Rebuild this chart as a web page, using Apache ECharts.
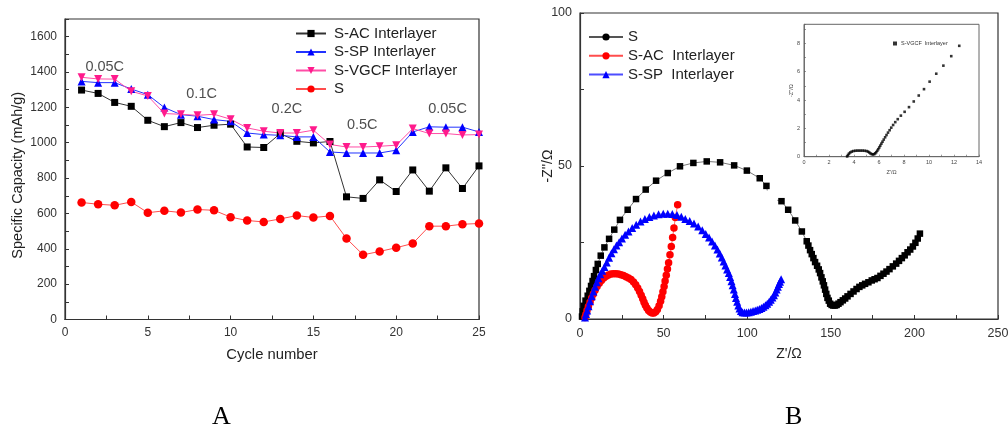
<!DOCTYPE html>
<html>
<head>
<meta charset="utf-8">
<script src="https://cdn.jsdelivr.net/npm/echarts@6/dist/echarts.min.js"></script>
<style>
html,body{margin:0;padding:0;background:#fff;}
#a{position:absolute;left:0;top:0;width:540px;height:433px;}
#b{position:absolute;left:540px;top:0;width:468px;height:433px;}
</style>
</head>
<body>
<div id="a"></div>
<div id="b"></div>
<script>
// ---------- Panel A data ----------
const cycles = [1,2,3,4,5,6,7,8,9,10,11,12,13,14,15,16,17,18,19,20,21,22,23,24,25];
const sacCap   = [1298,1279,1228,1206,1127,1091,1114,1086,1099,1105,976,973,1052,1008,999,1007,694,685,790,724,846,726,858,741,869];
const sspCap   = [1347,1340,1340,1304,1272,1199,1159,1150,1131,1121,1055,1046,1042,1033,1033,948,942,942,942,958,1061,1090,1088,1088,1061];
const svgcfCap = [1370,1361,1360,1291,1265,1165,1161,1155,1161,1133,1084,1065,1055,1055,1071,990,976,976,980,986,1080,1052,1052,1044,1046];
const sCap     = [662,652,646,665,604,615,605,622,618,579,560,552,569,588,577,586,458,366,385,406,430,528,528,539,543];
const rateLabels = [[2.4,1428,'0.05C'],[8.25,1274,'0.1C'],[13.4,1193,'0.2C'],[17.95,1099,'0.5C'],[23.1,1193,'0.05C']];
const capYTicks = [0,200,400,600,800,1000,1200,1400,1600];

// ---------- Panel B data (Nyquist) ----------
const eisS = [[1.2,0.8],[1.6,2.5],[2.2,4.3],[3.3,6.0],[4.6,7.6],[5.6,9.2],[6.6,10.8],[7.5,12.4],[8.4,14.0],[9.5,16.0],[10.6,18.0],[12.4,20.7],[14.6,23.4],[17.4,26.2],[20.5,29.2],[23.9,32.4],[28.5,35.7],[33.5,39.2],[39.3,42.3],[45.5,45.2],[52.5,47.7],[59.8,49.9],[67.8,51.0],[75.8,51.5],[83.8,51.2],[92.2,50.2],[99.8,48.5],[107.5,46.0],[111.5,43.5],[112.0,42.0],'-',[118.0,38.8],[120.5,38.5],[124.5,35.7],[128.7,32.2],[132.7,28.6],[135.6,25.4],[136.6,24.0],[137.6,22.5],[138.6,21.2],[139.6,19.9],[140.6,18.6],[141.8,17.4],[142.8,16.2],[143.6,15.0],[144.4,13.6],[145.2,12.3],[145.9,11.0],[146.6,9.6],[147.3,8.2],[148.0,6.9],[148.8,6.0],[149.6,5.0],[150.5,4.6],[151.5,4.4],[152.5,4.4],[153.5,4.6],[154.6,5.0],[155.8,5.5],[157.2,6.1],[158.6,6.7],[160.0,7.4],[161.8,8.2],[163.6,9.0],[165.4,9.8],[167.1,10.5],[168.8,11.0],[170.5,11.5],[172.5,12.0],[174.5,12.6],[176.2,13.0],[177.9,13.4],[179.7,14.1],[181.5,14.8],[183.3,15.5],[185.1,16.3],[187.1,17.2],[189.1,18.1],[190.8,19.0],[192.5,19.9],[194.2,20.8],[195.9,21.8],[197.5,22.7],[199.1,23.7],[200.6,24.9],[202.0,26.3],[203.3,27.9]];
const eisSAC = [[3.0,0.5],[3.5,1.5],[4.2,2.8],[5.0,4.1],[6.0,5.5],[7.0,6.9],[8.0,8.2],[9.0,9.4],[10.2,10.6],[11.5,11.7],[12.8,12.6],[14.2,13.4],[15.6,14.0],[17.0,14.4],[18.5,14.7],[20.0,14.8],[21.5,14.8],[23.0,14.7],[24.5,14.5],[26.0,14.2],[27.5,13.8],[29.0,13.4],[30.5,12.9],[32.0,12.1],[33.3,11.2],[34.5,10.1],[35.6,9.0],[36.6,7.8],[37.5,6.6],[38.3,5.5],[39.1,4.5],[40.0,3.6],[41.0,2.8],[42.0,2.3],[43.1,2.0],[44.2,2.0],[45.3,2.4],[46.3,3.1],[47.3,4.3],[48.2,5.8],[48.9,7.3],[49.6,8.9],[50.3,10.6],[50.9,12.4],[51.6,14.3],[52.3,16.3],[53.0,18.4],[53.8,21.0],[54.6,23.7],[55.4,26.6],[56.2,29.7],[57.0,33.2],[58.4,37.3]];
const eisSSP = [[3.0,0.5],[3.6,1.6],[4.3,2.8],[5.1,4.2],[6.0,5.8],[7.0,7.4],[8.0,9.0],[9.0,10.5],[10.0,12.0],[11.0,13.3],[12.1,14.6],[13.3,15.8],[14.6,17.0],[16.0,18.5],[17.4,20.0],[18.8,21.5],[20.3,22.8],[21.8,24.0],[23.4,25.1],[25.1,26.3],[27.0,27.5],[29.0,28.6],[31.2,29.7],[33.6,30.8],[36.2,31.9],[38.8,32.7],[41.5,33.3],[44.2,33.8],[47.0,34.2],[49.8,34.4],[52.5,34.4],[55.2,34.3],[58.0,34.0],[60.6,33.4],[63.0,32.7],[65.6,32.0],[68.2,31.2],[70.7,30.2],[73.1,29.0],[75.2,27.8],[77.2,26.6],[79.0,25.3],[80.7,24.0],[82.2,22.7],[83.6,21.4],[84.8,20.1],[85.9,18.8],[87.0,17.5],[88.0,16.2],[89.0,15.0],[89.8,13.7],[90.6,12.3],[91.3,11.0],[92.0,9.6],[92.7,8.2],[93.3,6.9],[94.0,5.6],[94.7,4.4],[95.4,3.4],[96.2,2.6],[97.2,2.2],[98.4,2.1],[99.6,2.1],[100.9,2.2],[102.2,2.4],[103.5,2.6],[104.8,2.8],[106.0,3.0],[107.3,3.3],[108.5,3.6],[109.7,4.0],[110.9,4.5],[112.0,5.0],[113.1,5.6],[114.1,6.3],[115.1,7.0],[116.0,7.8],[116.8,8.7],[117.6,9.6],[118.3,10.5],[119.0,11.4],[119.6,12.2],[120.3,13.0]];
const insetVGCF = [[3.45,0.02],[3.52,0.12],[3.6,0.22],[3.7,0.3],[3.82,0.36],[3.95,0.4],[4.1,0.42],[4.25,0.43],[4.4,0.43],[4.55,0.43],[4.7,0.43],[4.85,0.42],[5.0,0.4],[5.12,0.36],[5.22,0.3],[5.32,0.23],[5.42,0.18],[5.52,0.16],[5.62,0.18],[5.7,0.24],[5.78,0.32],[5.86,0.42],[5.94,0.53],[6.02,0.65],[6.1,0.78],[6.19,0.92],[6.28,1.06],[6.38,1.21],[6.49,1.37],[6.6,1.53],[6.72,1.7],[6.85,1.87],[6.98,2.05],[7.13,2.24],[7.3,2.44],[7.5,2.65],[7.75,2.9],[8.05,3.17],[8.4,3.5],[8.78,3.9],[9.18,4.32],[9.6,4.77],[10.05,5.3],[10.58,5.86],[11.15,6.43],[11.78,7.1],[12.42,7.83]];

const FONT = "'Liberation Sans', Arial, sans-serif";
const AX = '#333';

function pairs(xs, ys){ return xs.map((x,i)=>[x, ys[i]]); }

// ---------- Panel A ----------
const chartA = echarts.init(document.getElementById('a'), null, {renderer:'canvas'});
const lineSeries = (name, data, symbol, size, mcol, lcol) => ({
  name, type:'line', data, symbol, symbolSize:size,
  itemStyle:{color:mcol}, lineStyle:{color:lcol, width:1}, z:3
});
chartA.setOption({
  animation:false,
  textStyle:{fontFamily:FONT},
  grid:{left:65, top:19, width:414, height:300.5, show:true, borderColor:AX, borderWidth:1.2,
    containLabel:false, outerBoundsMode:'none'},
  xAxis:{type:'value', min:0, max:25, interval:5,
    axisLine:{lineStyle:{color:AX, width:1.2}},
    axisTick:{inside:true, length:4, lineStyle:{color:AX}},
    minorTick:{show:true, splitNumber:2, length:4, lineStyle:{color:AX}},
    splitLine:{show:false},
    axisLabel:{color:'#333', fontSize:12, margin:7, fontFamily:FONT, formatter:v => String(v)},
    name:'Cycle number', nameLocation:'middle', nameGap:28, nameMoveOverlap:false,
    nameTextStyle:{color:'#222', fontSize:14.8, fontFamily:FONT}},
  yAxis:{type:'value', min:0, max:1700, interval:200,
    axisLine:{show:true, lineStyle:{color:AX, width:1.2}},
    axisTick:{show:true, inside:true, length:4, lineStyle:{color:AX}},
    minorTick:{show:true, splitNumber:2, length:4, lineStyle:{color:AX}},
    splitLine:{show:false},
    axisLabel:{color:'#333', fontSize:12, margin:8, showMaxLabel:false, fontFamily:FONT,
      formatter:v => capYTicks.includes(v) ? String(v) : ''},
    name:'Specific Capacity (mAh/g)', nameLocation:'middle', nameGap:40, nameMoveOverlap:false,
    nameTextStyle:{color:'#222', fontSize:14.5, fontFamily:FONT, padding:[0,12,0,0]}},
  legend:{orient:'vertical', left:295, top:26, padding:0, itemWidth:30, itemHeight:9, itemGap:3.5,
    data:['S-AC Interlayer','S-SP Interlayer','S-VGCF Interlayer','S'],
    textStyle:{fontSize:15, color:'#222', fontFamily:FONT, padding:[0,0,0,3]}},
  series:[
    lineSeries('S-AC Interlayer', pairs(cycles, sacCap), 'rect', 7, '#000', '#333'),
    lineSeries('S-SP Interlayer', pairs(cycles, sspCap), 'triangle', 8, '#0000ff', '#2233ff'),
    lineSeries('S-VGCF Interlayer', pairs(cycles, svgcfCap), 'path://M0,0 L10,0 L5,9 Z', 8, '#ff1a8c', '#ff4da6'),
    lineSeries('S', pairs(cycles, sCap), 'circle', 8.5, '#ff0000', '#ff4d4d'),
    {name:'rates', type:'scatter', data:rateLabels.map(r=>({value:[r[0], r[1]], name:r[2]})),
      symbolSize:1, itemStyle:{color:'transparent'}, silent:true, z:5,
      label:{show:true, position:'inside', formatter:p=>p.name, color:'#222', fontSize:14.5, fontFamily:FONT}}
  ],
  graphic:[{type:'text', left:212, top:404,
    style:{text:'A', font:"26px 'Liberation Serif', 'Times New Roman', serif", fill:'#000'}}]
});

// ---------- Panel B ----------
const chartB = echarts.init(document.getElementById('b'), null, {renderer:'canvas'});
const nameMap = {'S_eis':'S', 'SAC_eis':'S-AC  Interlayer', 'SSP_eis':'S-SP  Interlayer', 'VGCF_eis':'S-VGCF  Interlayer'};
const gapIdx = [];
eisS.forEach((p,i)=>{ if(p==='-'){ gapIdx.push(i-1, i+1); } });
chartB.setOption({
  animation:false,
  textStyle:{fontFamily:FONT},
  grid:[
    {left:40, top:13, width:418, height:306, show:true, borderColor:AX, borderWidth:1.2,
      containLabel:false, outerBoundsMode:'none'},
    {left:264, top:24.3, width:175, height:132.4, show:true, borderColor:'#666', borderWidth:1, z:10,
      containLabel:false, outerBoundsMode:'none'}
  ],
  xAxis:[
    {gridIndex:0, type:'value', min:0, max:250, interval:50,
      axisLine:{lineStyle:{color:AX, width:1.2}},
      axisTick:{inside:true, length:4, lineStyle:{color:AX}},
      minorTick:{show:true, splitNumber:2, length:4, lineStyle:{color:AX}},
      splitLine:{show:false},
      axisLabel:{color:'#333', fontSize:12.5, margin:8, fontFamily:FONT, formatter:v => String(v)},
      name:"Z'/Ω", nameLocation:'middle', nameGap:28, nameMoveOverlap:false,
      nameTextStyle:{color:'#222', fontSize:14, fontFamily:FONT}},
    {gridIndex:1, type:'value', min:0, max:14, interval:2,
      axisLine:{lineStyle:{color:'#555', width:0.8}},
      axisTick:{inside:true, length:2, lineStyle:{color:'#555', width:0.6}},
      minorTick:{show:true, splitNumber:2, length:2, lineStyle:{color:'#555', width:0.6}},
      splitLine:{show:false},
      axisLabel:{color:'#444', fontSize:5.5, margin:3, fontFamily:FONT, formatter:v => String(v)},
      name:"Z'/Ω", nameLocation:'middle', nameGap:13, nameMoveOverlap:false,
      nameTextStyle:{color:'#444', fontSize:5.5, fontFamily:FONT}}
  ],
  yAxis:[
    {gridIndex:0, type:'value', min:0, max:100, interval:50,
      axisLine:{show:true, lineStyle:{color:AX, width:1.2}},
      axisTick:{show:true, inside:true, length:4, lineStyle:{color:AX}},
      minorTick:{show:true, splitNumber:2, length:4, lineStyle:{color:AX}},
      splitLine:{show:false},
      axisLabel:{color:'#333', fontSize:12.5, margin:8, fontFamily:FONT, formatter:v => String(v)},
      name:"-Z''/Ω", nameLocation:'middle', nameGap:25, nameMoveOverlap:false,
      nameTextStyle:{color:'#222', fontSize:14, fontFamily:FONT}},
    {gridIndex:1, type:'value', min:0, max:9.35, interval:2,
      axisLine:{show:true, lineStyle:{color:'#555', width:0.8}},
      axisTick:{show:true, inside:true, length:2, lineStyle:{color:'#555', width:0.6}},
      minorTick:{show:true, splitNumber:2, length:2, lineStyle:{color:'#555', width:0.6}},
      splitLine:{show:false},
      axisLabel:{color:'#444', fontSize:5.5, margin:4, showMaxLabel:false, fontFamily:FONT,
        formatter:v => (v % 2 === 0 ? String(v) : '')},
      name:"-Z''/Ω", nameLocation:'middle', nameGap:10, nameMoveOverlap:false,
      nameTextStyle:{color:'#444', fontSize:5.5, fontFamily:FONT}}
  ],
  legend:[
    {orient:'vertical', left:48, top:29.5, padding:0, itemWidth:34, itemHeight:9, itemGap:3.8,
      data:['S_eis','SAC_eis','SSP_eis'], formatter:n=>nameMap[n],
      textStyle:{fontSize:15, color:'#222', fontFamily:FONT}},
    {orient:'vertical', left:353, top:40.5, padding:0, itemWidth:4, itemHeight:4, itemGap:2,
      data:[{name:'VGCF_eis', icon:'rect'}], formatter:n=>nameMap[n],
      textStyle:{fontSize:5.5, color:'#333', fontFamily:FONT, padding:[0,0,0,-1]}}
  ],
  series:[
    {name:'S_eis', type:'line', xAxisIndex:0, yAxisIndex:0, data:eisS,
      symbol:(v,p)=> gapIdx.includes(p.dataIndex) ? 'none' : 'rect', symbolSize:6.5,
      itemStyle:{color:'#000'}, lineStyle:{color:'#555', width:0.8}, connectNulls:false, z:3},
    {name:'SAC_eis', type:'line', xAxisIndex:0, yAxisIndex:0, data:eisSAC,
      symbol:'circle', symbolSize:7.5, itemStyle:{color:'#ff0000'}, lineStyle:{color:'#ff4d4d', width:0.8}, z:4},
    {name:'SSP_eis', type:'line', xAxisIndex:0, yAxisIndex:0, data:eisSSP,
      symbol:'triangle', symbolSize:8, itemStyle:{color:'#0000ff'}, lineStyle:{color:'#4d4dff', width:0.8}, z:5},
    {name:'VGCF_eis', type:'scatter', xAxisIndex:1, yAxisIndex:1, data:insetVGCF,
      symbol:'rect', symbolSize:2.6, itemStyle:{color:'#000'}, z:11}
  ],
  graphic:[{type:'text', left:245, top:404,
    style:{text:'B', font:"26px 'Liberation Serif', 'Times New Roman', serif", fill:'#000'}}]
});
</script>
</body>
</html>
